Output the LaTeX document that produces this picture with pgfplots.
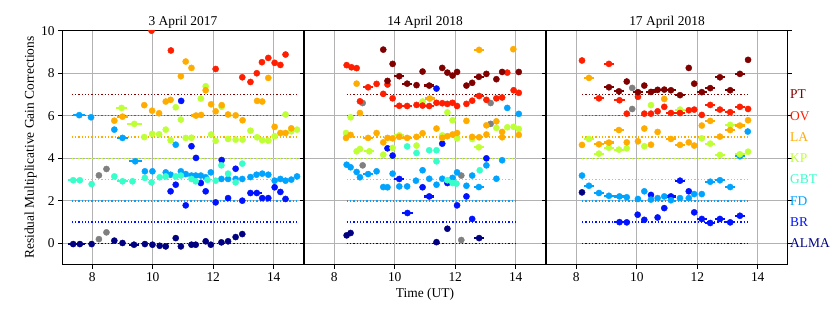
\documentclass[border=0pt]{standalone}
\usepackage{fontspec}
\setmainfont{Liberation Serif}
\usepackage{pgfplots}
\pgfplotsset{compat=1.18}

\definecolor{cALMA}{RGB}{0,0,128}
\definecolor{cBR}{RGB}{0,18,255}
\definecolor{cFD}{RGB}{0,164,255}
\definecolor{cGBT}{RGB}{54,255,202}
\definecolor{cKP}{RGB}{190,255,54}
\definecolor{cLA}{RGB}{255,172,0}
\definecolor{cOV}{RGB}{255,30,0}
\definecolor{cPT}{RGB}{128,0,0}
\definecolor{cGRAY}{RGB}{128,128,128}
\definecolor{cGRID}{RGB}{178,178,178}

\newcommand{\ser}[2]{\addplot[only marks, mark=*, mark size=3.1pt, color=#1, mark options={draw=#1, fill=#1},
  error bars/.cd, x dir=both, x explicit, error mark=none, error bar style={line width=2.2bp, solid, draw=#1}]
  table[x index=0, y index=1, x error index=2, row sep=\\] {#2};}
\newcommand{\lvl}[4]{\addplot[#1, line width=1.4bp, dash pattern=on 1.3bp off 2bp, forget plot] coordinates {(#2,#4) (#3,#4)};}
\newcommand{\levels}[2]{\lvl{cALMA}{#1}{#2}{0}\lvl{cBR}{#1}{#2}{1}\lvl{cFD}{#1}{#2}{2}\lvl{cGBT}{#1}{#2}{3}%
  \lvl{cKP}{#1}{#2}{4}\lvl{cLA}{#1}{#2}{5}\lvl{cOV}{#1}{#2}{6}\lvl{cPT}{#1}{#2}{7}}

\pgfplotsset{
 panel/.style={
  scale only axis, width=242bp, height=234bp,
  xmin=7, xmax=15, ymin=-1, ymax=10,
  xtick={8,10,12,14}, ytick={0,2,4,6,8,10},
  grid=major, major grid style={draw=cGRID, line width=0.9bp},
  tick align=outside, xtick pos=bottom, ytick pos=both,
  major tick length=4bp, tick style={black, line width=0.8bp},
  axis line style={line width=1bp},
  font=\fontsize{13.5}{16}\selectfont,
  tick label style={font=\fontsize{13.5}{16}\selectfont},
  /pgf/number format/assume math mode=true,
  every axis title/.style={at={(0.5,1)}, anchor=base, yshift=5bp},
 }
}

\begin{document}
\begin{tikzpicture}
\useasboundingbox (-62bp,-47bp) rectangle (768bp,264.7bp);
% ---------------- Panel 1 ----------------
\begin{axis}[panel, title={3 April 2017}, yticklabel pos=left, clip marker paths=true,
  ylabel={Residual Multiplicative Gain Corrections},
  ylabel style={at={(axis description cs:-0.13,0.5)}, anchor=center}]
\levels{7.32}{14.77}
\ser{cGRAY}{8.22 0.20 0\\8.47 0.52 0\\8.22 3.20 0\\8.47 3.50 0\\}
\ser{cALMA}{7.37 -0.03 0.17\\7.59 -0.03 0.17\\7.98 -0.03 0\\8.73 0.13 0\\9.00 0.02 0\\9.38 -0.06 0.17\\9.74 -0.03 0\\9.99 -0.06 0\\10.23 -0.11 0\\10.43 -0.14 0\\10.76 0.25 0\\10.93 -0.14 0\\11.28 -0.06 0\\11.42 -0.06 0\\11.75 0.10 0\\11.92 -0.06 0\\12.27 0.05 0\\12.49 0.10 0\\12.74 0.30 0\\12.96 0.44 0\\}
\ser{cBR}{10.94 6.70 0\\11.28 4.57 0\\11.43 4.02 0\\12.28 3.92 0\\12.74 3.51 0\\10.59 2.45 0\\10.76 2.76 0\\11.09 1.79 0\\11.59 2.84 0\\11.75 2.45 0\\12.08 1.93 0\\12.49 2.13 0\\12.96 2.01 0\\13.23 2.37 0\\13.44 2.37 0.17\\13.62 2.13 0\\13.82 2.13 0\\14.03 2.64 0\\14.22 2.42 0\\14.39 2.09 0\\}
\ser{cFD}{7.57 6.03 0.2\\7.96 5.93 0\\8.73 5.35 0\\9.00 4.96 0.18\\10.76 4.64 0\\9.42 3.86 0.22\\9.74 3.39 0\\9.99 3.39 0\\10.43 3.34 0\\10.59 3.23 0\\10.93 3.39 0\\11.09 3.26 0\\11.28 3.19 0\\11.42 3.19 0.15\\11.59 3.19 0\\11.75 3.11 0\\11.92 3.34 0\\12.27 3.03 0\\12.49 3.03 0\\12.74 3.03 0\\12.96 3.03 0\\13.23 3.12 0\\13.43 3.23 0\\13.62 3.28 0\\13.82 3.23 0\\14.03 2.95 0\\14.22 3.03 0\\14.39 2.95 0\\14.58 3.00 0\\14.77 3.15 0\\}
\ser{cGBT}{7.37 2.97 0.17\\7.59 2.97 0\\7.98 2.79 0\\8.73 3.15 0\\9.00 2.92 0.17\\9.33 2.92 0\\9.74 3.08 0\\9.96 2.87 0\\10.23 3.11 0\\10.43 3.15 0\\10.76 3.15 0\\10.93 3.19 0\\11.28 3.03 0\\11.42 2.92 0\\11.81 2.99 0\\12.08 2.95 0\\12.27 3.67 0\\12.49 3.28 0\\12.74 2.87 0\\12.96 3.75 0\\}
\ser{cKP}{11.75 7.39 0\\11.59 6.81 0\\10.76 6.40 0\\12.28 6.42 0\\14.39 6.06 0\\8.97 6.37 0.18\\9.39 5.62 0.24\\10.93 5.82 0\\14.77 5.35 0\\14.58 5.27 0\\9.72 5.00 0\\9.98 5.15 0\\10.21 5.13 0\\10.43 5.35 0\\10.59 4.85 0\\11.09 4.96 0\\11.28 4.97 0\\11.93 5.12 0\\12.08 4.82 0\\12.49 4.91 0\\12.74 4.88 0\\12.97 4.88 0\\13.23 5.30 0\\13.45 4.99 0\\13.62 4.85 0\\13.82 4.83 0\\14.03 5.04 0\\}
\ser{cLA}{11.09 8.55 0\\11.28 8.25 0\\10.93 7.86 0\\13.82 7.78 0\\11.75 7.20 0\\10.43 6.67 0\\10.59 6.75 0\\9.72 6.50 0\\9.98 6.24 0\\10.21 6.12 0\\11.93 6.54 0\\12.08 6.21 0\\12.28 6.50 0\\12.49 6.06 0\\12.74 6.02 0\\12.97 5.79 0\\13.45 6.70 0\\13.62 6.67 0\\11.43 6.01 0.15\\11.60 6.04 0\\8.73 5.77 0\\9.00 5.96 0.17\\14.03 5.48 0\\14.22 5.19 0\\14.39 5.19 0\\14.58 5.41 0\\}
\ser{cOV}{9.96 10.0 0\\10.60 9.07 0\\12.08 8.20 0\\12.96 7.81 0\\13.23 7.59 0\\13.44 8.00 0\\13.61 8.52 0\\13.82 8.72 0\\14.03 8.49 0\\14.22 8.39 0\\14.39 8.88 0\\}
\end{axis}
% ---------------- Panel 2 ----------------
\begin{axis}[panel, at={(242bp,0)}, title={14 April 2018}, yticklabels={}, xlabel={Time (UT)}]
\levels{8.41}{14.07}
\ser{cGRAY}{12.20 0.16 0\\8.94 6.60 0\\13.17 6.60 0\\13.17 5.62 0\\8.94 3.67 0\\12.20 3.19 0\\}
\ser{cALMA}{8.41 0.38 0\\8.54 0.49 0\\11.74 0.69 0\\11.38 0.06 0\\12.79 0.25 0.17\\}
\ser{cBR}{11.38 7.28 0\\9.76 4.47 0\\9.93 4.13 0\\11.57 4.69 0\\13.03 4.00 0\\10.15 3.03 0.17\\10.92 2.64 0\\11.14 2.21 0.17\\11.74 2.84 0\\12.37 2.21 0\\12.06 1.79 0\\10.42 1.43 0.17\\12.56 1.15 0\\}
\ser{cFD}{13.72 6.37 0\\14.10 6.09 0\\13.55 3.91 0\\8.41 3.70 0\\8.54 3.58 0\\8.74 3.36 0\\8.85 3.11 0\\9.12 3.26 0.17\\9.40 3.39 0\\9.62 2.65 0\\9.76 2.64 0\\9.93 3.28 0\\10.15 2.68 0\\10.41 2.68 0\\10.70 2.95 0\\10.92 3.44 0\\11.14 3.04 0\\11.38 2.76 0\\11.57 3.04 0\\11.91 3.08 0\\12.06 3.34 0\\12.37 2.71 0\\12.56 3.19 0\\12.78 2.65 0.17\\13.03 3.67 0\\13.36 3.04 0\\}
\ser{cGBT}{10.41 4.56 0\\10.72 4.25 0\\11.14 4.38 0\\11.38 4.38 0\\11.38 3.86 0\\11.74 2.97 0\\11.91 2.84 0\\12.04 2.81 0\\12.81 3.44 0\\}
\ser{cKP}{10.92 6.67 0\\8.54 5.93 0\\11.74 6.16 0\\11.91 5.79 0\\13.36 5.43 0\\13.72 5.46 0\\13.93 5.48 0\\14.10 5.38 0\\8.39 5.19 0\\10.15 5.08 0.17\\11.57 5.08 0\\12.06 4.94 0\\12.56 4.91 0\\8.74 4.33 0\\8.85 4.44 0\\9.16 4.33 0.17\\9.62 4.17 0\\9.93 4.49 0\\10.72 4.60 0\\12.78 4.52 0.17\\}
\ser{cLA}{8.74 7.51 0\\12.79 9.10 0.17\\13.92 9.13 0\\11.16 6.81 0.17\\8.85 6.13 0\\12.37 5.76 0\\13.03 5.55 0\\13.36 5.74 0\\13.55 5.24 0\\11.38 5.40 0\\8.39 4.96 0\\8.54 5.10 0\\9.12 4.96 0.17\\9.40 5.19 0\\9.62 4.75 0\\9.76 4.96 0\\9.93 4.94 0\\10.15 5.01 0\\10.41 4.96 0.17\\10.72 5.01 0\\10.92 5.18 0\\11.57 4.96 0\\11.74 5.04 0\\11.91 5.12 0\\12.06 5.19 0\\12.56 5.01 0\\12.79 4.99 0\\13.03 5.12 0\\13.55 4.99 0\\14.10 5.10 0\\}
\ser{cOV}{8.41 8.38 0\\8.57 8.28 0\\8.74 8.24 0\\9.12 7.34 0.17\\9.40 7.50 0\\9.76 7.47 0\\9.62 7.03 0\\13.72 8.03 0\\13.93 7.20 0\\14.10 7.08 0\\12.79 6.93 0.17\\13.03 6.75 0\\13.36 6.82 0\\13.55 6.86 0\\12.56 6.71 0\\12.37 6.56 0\\8.85 6.68 0\\9.93 6.82 0\\10.15 6.47 0.17\\10.41 6.46 0.17\\10.72 6.51 0\\10.92 6.48 0\\11.14 6.46 0.17\\11.38 6.61 0\\11.57 6.59 0\\11.74 6.56 0\\11.91 6.61 0\\12.06 6.46 0\\}
\ser{cPT}{9.62 9.11 0\\9.93 8.44 0\\9.76 7.64 0\\10.15 7.86 0.17\\10.41 7.51 0.17\\10.72 7.44 0\\10.92 8.08 0\\11.14 7.42 0.17\\11.57 8.25 0\\11.74 8.03 0\\11.91 7.89 0\\12.06 8.06 0\\12.37 7.42 0\\12.56 7.55 0\\12.78 7.83 0.17\\13.03 7.97 0\\13.36 7.72 0\\13.55 8.06 0\\14.10 8.06 0\\}
\end{axis}
% ---------------- Panel 3 ----------------
\begin{axis}[panel, at={(484bp,0)}, title={17 April 2018}, yticklabels={}, clip=false]
\levels{8.19}{13.66}
\ser{cGRAY}{9.85 7.31 0\\9.85 6.32 0\\}
\ser{cALMA}{8.19 2.40 0\\}
\ser{cBR}{10.47 2.28 0\\11.13 2.21 0.17\\11.72 2.45 0\\11.43 2.95 0.17\\10.03 1.35 0\\10.25 1.11 0\\9.43 1.00 0.17\\9.67 0.99 0\\10.69 1.22 0\\10.91 1.66 0\\11.90 1.46 0\\12.15 1.15 0.17\\12.43 0.96 0.17\\12.75 1.15 0.17\\13.09 0.99 0.17\\13.41 1.30 0.17\\}
\ser{cFD}{13.67 5.26 0\\13.41 4.10 0.17\\8.19 3.19 0\\8.42 2.71 0.17\\8.75 2.37 0.17\\9.08 2.24 0.17\\9.43 2.21 0.17\\9.67 2.17 0\\10.04 2.09 0\\10.25 2.45 0\\10.47 2.06 0\\10.69 2.13 0\\10.91 2.21 0\\11.13 2.03 0\\11.43 2.13 0\\11.72 2.13 0\\11.90 2.32 0\\12.15 2.32 0\\12.43 2.90 0.17\\12.75 2.97 0.17\\13.09 2.65 0.17\\}
\ser{cKP}{10.47 6.50 0\\11.43 6.29 0.17\\13.09 5.57 0.17\\8.42 4.91 0.17\\9.08 4.50 0.17\\9.41 4.41 0.17\\9.67 4.47 0\\10.25 4.57 0\\12.15 4.94 0\\12.43 4.69 0.17\\8.75 4.22 0.17\\12.75 4.16 0.17\\13.41 4.19 0.17\\13.68 4.31 0\\}
\ser{cLA}{8.42 7.78 0.17\\10.91 6.79 0\\9.41 5.33 0.17\\10.25 5.40 0\\10.69 5.24 0\\12.15 5.54 0\\12.43 5.76 0.17\\13.09 5.33 0.17\\13.41 5.54 0.17\\13.68 5.79 0\\8.19 4.63 0\\8.75 4.66 0.17\\9.08 4.74 0.17\\9.67 4.75 0\\10.04 4.80 0\\10.47 4.64 0\\11.13 4.91 0.17\\11.43 4.63 0.17\\11.72 4.75 0\\11.90 4.60 0\\12.75 5.02 0.17\\}
\ser{cOV}{8.19 8.60 0\\9.08 8.44 0.17\\8.75 6.82 0.17\\9.43 6.73 0.17\\10.04 6.89 0\\9.67 6.10 0\\10.25 6.10 0\\10.47 6.10 0\\10.69 6.21 0\\10.91 6.42 0\\11.13 6.13 0.17\\11.43 6.13 0.17\\11.72 6.26 0\\11.90 6.29 0\\12.15 6.04 0\\12.43 6.51 0.17\\12.75 6.29 0.17\\13.09 6.17 0.17\\13.41 6.42 0.17\\13.68 6.32 0\\}
\ser{cPT}{9.08 7.34 0.17\\9.41 7.15 0.17\\9.67 7.61 0\\10.04 7.11 0.17\\10.25 7.42 0\\10.47 7.12 0.17\\10.69 7.22 0.17\\10.91 7.23 0.17\\11.13 7.20 0.17\\11.43 6.97 0.17\\11.72 8.25 0\\11.90 7.51 0\\12.15 7.11 0.17\\12.43 7.30 0.17\\12.75 7.81 0.17\\13.09 7.20 0.17\\13.41 7.97 0.17\\13.68 8.63 0\\}
\node[anchor=west, text=cPT, inner sep=0pt, xshift=2bp] at (axis cs:15,7) {PT};
\node[anchor=west, text=cOV, inner sep=0pt, xshift=2bp] at (axis cs:15,6) {OV};
\node[anchor=west, text=cLA, inner sep=0pt, xshift=2bp] at (axis cs:15,5) {LA};
\node[anchor=west, text=cKP, inner sep=0pt, xshift=2bp] at (axis cs:15,4) {KP};
\node[anchor=west, text=cGBT, inner sep=0pt, xshift=2bp] at (axis cs:15,3) {GBT};
\node[anchor=west, text=cFD, inner sep=0pt, xshift=2bp] at (axis cs:15,2) {FD};
\node[anchor=west, text=cBR, inner sep=0pt, xshift=2bp] at (axis cs:15,1) {BR};
\node[anchor=west, text=cALMA, inner sep=0pt, xshift=2bp] at (axis cs:15,0) {ALMA};
\end{axis}
\end{tikzpicture}
\end{document}
